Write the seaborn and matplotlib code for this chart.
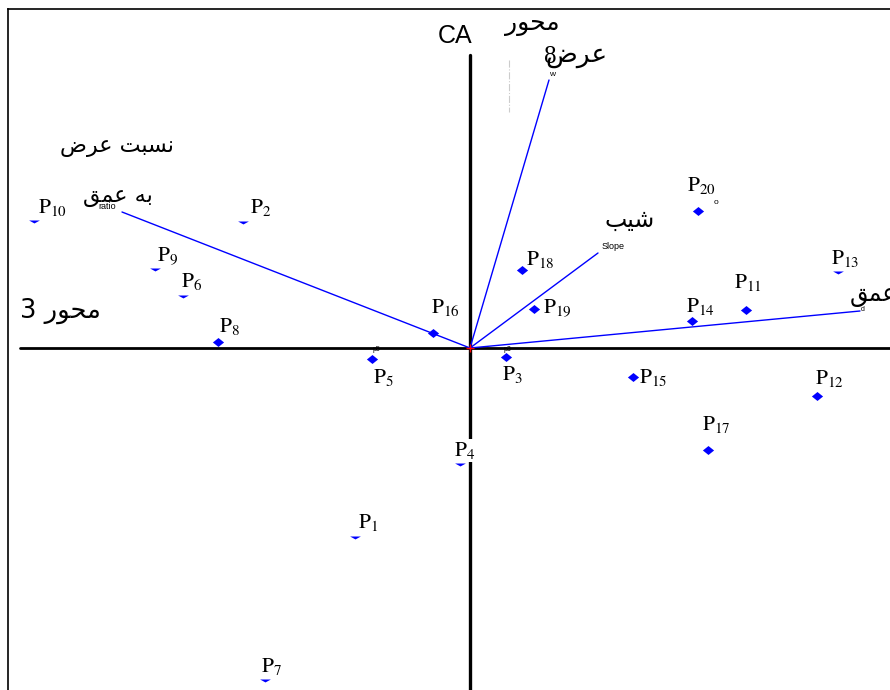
"""
CA biplot of stream cross-section points (P1..P20) with variable vectors
"""

import numpy as np
import pandas as pd
import seaborn as sns
from matplotlib import pyplot as plt
from matplotlib.markers import MarkerStyle

# points: CA scores (axis 3, axis 8)
point_names = ["P%d" % i for i in range(1, 21)]
point_x = [-1.15, -2.27, 0.36, -0.10, -0.98, -2.87, -2.05, -2.52, -3.15, -4.36,
           2.76, 3.47, 3.68, 2.22, 1.63, -0.37, 2.38, 0.52, 0.64, 2.28]
point_y = [-1.88, 1.27, -0.09, -1.15, -0.11, 0.53, -3.31, 0.06, 0.80, 1.28,
           0.38, -0.48, 0.77, 0.27, -0.29, 0.15, -1.02, 0.78, 0.39, 1.37]
# points whose marker is half hidden under the label box
half_marker = ["P1", "P2", "P4", "P6", "P7", "P9", "P10", "P13"]

# variable vectors
var_names = ["ratio", "w", "Slope", "d"]
var_x = [-3.48, 0.79, 1.28, 3.90]
var_y = [1.36, 2.68, 0.95, 0.37]

# label offsets in pixels (right, up)
label_offset = {
    "P1": (3, 8), "P2": (7, 8), "P3": (-4, -23), "P4": (-6, 7), "P5": (1, -24),
    "P6": (-2, 8), "P7": (-4, 7), "P8": (1, 10), "P9": (2, 7), "P10": (4, 7),
    "P11": (-12, 22), "P12": (-2, 12), "P13": (-7, 7), "P14": (-6, 9),
    "P15": (6, -6), "P16": (-2, 20), "P17": (-6, 20), "P18": (4, 5),
    "P19": (9, -4), "P20": (-11, 20),
}

# arabic presentation forms: isolated, final, initial, medial
FORMS = {
    "ب": ("\uFE8F", "\uFE90", "\uFE91", "\uFE92"),
    "ت": ("\uFE95", "\uFE96", "\uFE97", "\uFE98"),
    "ح": ("\uFEA1", "\uFEA2", "\uFEA3", "\uFEA4"),
    "ر": ("\uFEAD", "\uFEAE", "\uFEAD", "\uFEAE"),
    "س": ("\uFEB1", "\uFEB2", "\uFEB3", "\uFEB4"),
    "ش": ("\uFEB5", "\uFEB6", "\uFEB7", "\uFEB8"),
    "ض": ("\uFEBD", "\uFEBE", "\uFEBF", "\uFEC0"),
    "ع": ("\uFEC9", "\uFECA", "\uFECB", "\uFECC"),
    "ق": ("\uFED5", "\uFED6", "\uFED7", "\uFED8"),
    "م": ("\uFEE1", "\uFEE2", "\uFEE3", "\uFEE4"),
    "ن": ("\uFEE5", "\uFEE6", "\uFEE7", "\uFEE8"),
    "ه": ("\uFEE9", "\uFEEA", "\uFEEB", "\uFEEC"),
    "و": ("\uFEED", "\uFEEE", "\uFEED", "\uFEEE"),
    "ی": ("\uFBFC", "\uFBFD", "\uFBFE", "\uFBFF"),
}
NO_LEFT_JOIN = set("رو")


def shape(text):
    """join arabic letters and put them in visual order"""
    out = []
    for i, ch in enumerate(text):
        if ch not in FORMS:
            out.append(ch)
            continue
        prev = text[i - 1] if i > 0 else ""
        nxt = text[i + 1] if i + 1 < len(text) else ""
        join_prev = prev in FORMS and prev not in NO_LEFT_JOIN
        join_next = nxt in FORMS and ch not in NO_LEFT_JOIN
        iso, fin, ini, med = FORMS[ch]
        if join_prev and join_next:
            out.append(med)
        elif join_prev:
            out.append(fin)
        elif join_next:
            out.append(ini)
        else:
            out.append(iso)
    return "".join(reversed(out))


sns.set_style("white")
plt.rcParams["font.family"] = ["DejaVu Sans"]
plt.rcParams["mathtext.fontset"] = "stix"
plt.rcParams["text.color"] = "black"


def main():
    df = pd.DataFrame({"name": point_names, "x": point_x, "y": point_y})
    df["half"] = df["name"].isin(half_marker)

    seg = pd.DataFrame({
        "var": np.repeat(var_names, 2),
        "x": np.ravel([[0, v] for v in var_x]),
        "y": np.ravel([[0, v] for v in var_y]),
    })

    fig = plt.figure(figsize=(8.9, 6.9), dpi=100)
    ax = fig.add_axes([8 / 890, 0, 882 / 890, 681 / 690])
    ax.set_xlim(-4.62, 4.20)
    ax.set_ylim(-3.42, 3.39)
    for side in ["right", "bottom"]:
        ax.spines[side].set_visible(False)
    for side in ["left", "top"]:
        ax.spines[side].set_linewidth(1.2)
        ax.spines[side].set_color("black")
    ax.set_xticks([])
    ax.set_yticks([])

    # CA axes
    ax.plot([-4.50, 4.20], [0, 0], color="black", lw=2.0, zorder=1)
    ax.plot([0, 0], [2.93, -3.42], color="black", lw=2.4, zorder=1)
    ax.plot([0.39, 0.39], [2.88, 2.36], color="0.8", lw=0.8, ls="-.", zorder=1)

    # variable vectors
    sns.lineplot(data=seg, x="x", y="y", units="var", estimator=None,
                 sort=False, color="blue", lw=1.0, ax=ax, zorder=2)

    diamond = MarkerStyle([(-1, 0), (0, 0.8), (1, 0), (0, -0.8), (-1, 0)])
    half = MarkerStyle([(-1, 0), (1, 0), (0, -0.55), (-1, 0)])
    sns.scatterplot(data=df[~df["half"]], x="x", y="y", marker=diamond, s=65,
                    color="blue", linewidth=0, ax=ax, zorder=3)
    sns.scatterplot(data=df[df["half"]], x="x", y="y", marker=half, s=60,
                    color="blue", linewidth=0, ax=ax, zorder=3)
    ax.plot(0, 0, marker="+", color="red", ms=6, mew=1, zorder=4)

    for name, x, y in zip(point_names, point_x, point_y):
        dx, dy = label_offset[name]
        box = None
        if name == "P4":
            box = dict(facecolor="white", edgecolor="none", pad=0.5)
        ax.annotate(r"$\mathrm{P}_{%s}$" % name[1:], xy=(x, y), xytext=(dx, dy),
                    textcoords="offset pixels", ha="left", va="baseline",
                    fontsize=15.5, bbox=box, zorder=5)

    # persian labels
    fa = dict(fontsize=16, ha="center", va="center", family=["DejaVu Sans"])
    ax.text(-3.53, 2.01, shape("نسبت عرض"), **fa)
    ax.text(-3.52, 1.51, shape("به عمق"), **fa)
    ax.text(-4.10, 0.37, shape("محور 3"), fontsize=18.5, ha="center",
            va="center")
    ax.text(0.62, 3.24, shape("محور"), fontsize=18, ha="center", va="center")
    ax.text(1.06, 2.93, shape("عرض"), fontsize=19, ha="center", va="center")
    ax.text(1.60, 1.28, shape("شیب"), fontsize=17, ha="center", va="center")
    ax.text(3.80, 0.53, shape("عمق"), fontsize=17, ha="left", va="center")
    ax.text(-0.15, 3.12, "CA", fontsize=18, ha="center", va="center",
            family=["Liberation Sans"])
    ax.text(0.80, 2.91, "8", fontsize=18, ha="center", va="center",
            family=["Liberation Serif"])

    # small variable / point codes
    small = dict(ha="center", va="center", family=["Liberation Sans"])
    ax.text(-3.63, 1.42, "ratio", fontsize=6.5, **small)
    ax.text(0.82, 2.74, "w", fontsize=6, **small)
    ax.text(1.43, 1.02, "Slope", fontsize=6.5, **small)
    ax.text(3.93, 0.39, "d", fontsize=5, **small)
    ax.text(2.46, 1.46, "o", fontsize=6, **small)
    ax.text(-0.94, -0.01, "p5", fontsize=5, **small)
    ax.text(0.37, -0.01, "p3", fontsize=5, **small)

    fig.savefig("out.png", dpi=100)


if __name__ == "__main__":
    main()
